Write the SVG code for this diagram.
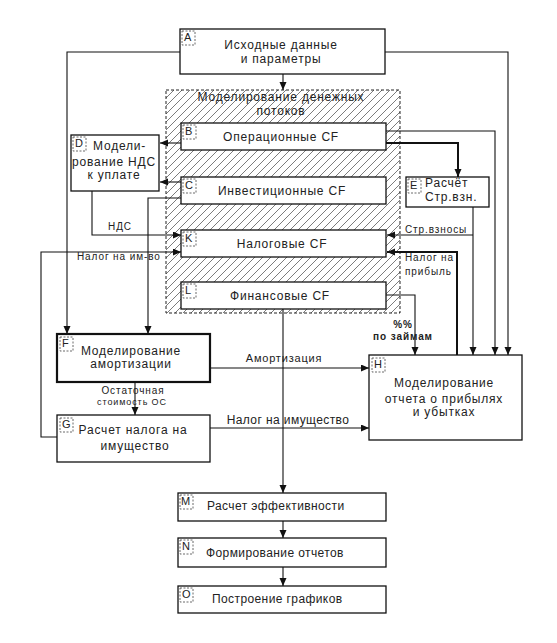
<svg xmlns="http://www.w3.org/2000/svg" width="557" height="643" viewBox="0 0 557 643">
<defs>
<pattern id="hatch" patternUnits="userSpaceOnUse" width="8" height="8">
<path d="M0,8 L8,0 M-2,2 L2,-2 M6,10 L10,6" stroke="#444" stroke-width="0.7"/>
</pattern>
<marker id="arr" markerUnits="userSpaceOnUse" markerWidth="9" markerHeight="8" refX="8" refY="3.5" orient="auto">
<path d="M0,0 L8,3.5 L0,7 z" fill="#111"/>
</marker>
</defs>
<style>
.box{fill:#fff;stroke:#111;stroke-width:1.3}
.thick{stroke-width:2.2}
.idb{fill:none;stroke:#444;stroke-width:0.8;stroke-dasharray:2,1.5}
.idt{font-family:"Liberation Sans",Arial,sans-serif;font-size:11px;fill:#222}
.t{font-family:"Liberation Sans",Arial,sans-serif;font-size:12px;fill:#222;letter-spacing:0.8px}
.tm{text-anchor:middle}
.lb{font-family:"Liberation Sans",Arial,sans-serif;font-size:10px;fill:#222;letter-spacing:0.9px}
.c{fill:none;stroke:#111;stroke-width:1.1}
.cb{fill:none;stroke:#111;stroke-width:2}
</style>
<rect width="557" height="643" fill="#fff"/>

<g id="hatched">
<rect x="166" y="90" width="234" height="223" fill="url(#hatch)" stroke="#222" stroke-width="1" stroke-dasharray="3,2"/>
<text class="t tm" x="281" y="101">Моделирование денежных</text>
<text class="t tm" x="281" y="115">потоков</text>
</g>

<g id="connectors">
<path class="c" d="M283,74 V90" marker-end="url(#arr)"/>
<path class="c" d="M180,52 H67 V334" marker-end="url(#arr)"/>
<path class="c" d="M385,52 H508 V355" marker-end="url(#arr)"/>
<path class="c" d="M181,143 H160" marker-end="url(#arr)"/>
<path class="c" d="M181,182 H160" marker-end="url(#arr)"/>
<path class="c" d="M181,198 H148 V334" marker-end="url(#arr)"/>
<path class="c" d="M92,191 V235 H181" marker-end="url(#arr)"/>
<path class="c" d="M57,437 H41 V252 H181" marker-end="url(#arr)"/>
<path class="cb" d="M386,143 H458 V177" marker-end="url(#arr)"/>
<path class="c" d="M386,131 H495 V355" marker-end="url(#arr)"/>
<path class="c" d="M473,207 V355" marker-end="url(#arr)"/>
<path class="c" d="M473,235 H387" marker-end="url(#arr)"/>
<path class="cb" d="M457,355 V252 H387" marker-end="url(#arr)"/>
<path class="c" d="M386,295 H415 V355" marker-end="url(#arr)"/>
<path class="c" d="M283,309 V493" marker-end="url(#arr)"/>
<path class="c" d="M210,368 H369" marker-end="url(#arr)"/>
<path class="c" d="M210,428 H369" marker-end="url(#arr)"/>
<path class="c" d="M135,382 V415" marker-end="url(#arr)"/>
<path class="c" d="M283,521 V538" marker-end="url(#arr)"/>
<path class="c" d="M283,567 V586" marker-end="url(#arr)"/>
<text class="lb tm" x="120" y="230">НДС</text>
<text class="lb" x="77" y="260">Налог на им-во</text>
<text class="lb" x="405" y="233">Стр.взносы</text>
<text class="lb" x="405" y="261">Налог на</text>
<text class="lb" x="405" y="275">прибыль</text>
<text class="lb tm" x="403" y="328" font-weight="bold">%%</text>
<text class="lb tm" x="403" y="340" font-weight="bold">по займам</text>
<text class="lb tm" x="133" y="394">Остаточная</text>
<text class="lb tm" x="132" y="405" style="font-size:9px">стоимость ОС</text>
<text class="t tm" x="284" y="362" style="font-size:11px">Амортизация</text>
<text class="t tm" x="288" y="424" style="letter-spacing:0.4px">Налог на имущество</text>
</g>

<g id="nodeA">
<rect class="box" x="180" y="29" width="205" height="45"/>
<rect class="idb" x="182" y="31" width="13" height="14"/><text class="idt" x="184" y="41">A</text>
<text class="t tm" x="281" y="49">Исходные данные</text>
<text class="t tm" x="281" y="63">и параметры</text>
</g>
<g id="nodeB">
<rect class="box" x="181" y="123" width="205" height="27"/>
<rect class="idb" x="183" y="125" width="13" height="14"/><text class="idt" x="185" y="135">B</text>
<text class="t tm" x="281" y="141">Операционные  CF</text>
</g>
<g id="nodeC">
<rect class="box" x="181" y="177" width="205" height="27"/>
<rect class="idb" x="183" y="179" width="13" height="14"/><text class="idt" x="185" y="189">C</text>
<text class="t tm" x="282" y="195">Инвестиционные  CF</text>
</g>
<g id="nodeK">
<rect class="box" x="181" y="230" width="205" height="27"/>
<rect class="idb" x="183" y="232" width="13" height="14"/><text class="idt" x="185" y="242">K</text>
<text class="t tm" x="282" y="248">Налоговые CF</text>
</g>
<g id="nodeL">
<rect class="box" x="181" y="282" width="205" height="27"/>
<rect class="idb" x="183" y="284" width="13" height="14"/><text class="idt" x="185" y="294">L</text>
<text class="t tm" x="280" y="300">Финансовые CF</text>
</g>
<g id="nodeD">
<rect class="box" x="71" y="135" width="88" height="56"/>
<rect class="idb" x="73" y="137" width="13" height="14"/><text class="idt" x="75" y="147">D</text>
<text class="t" x="93" y="150">Модели-</text>
<text class="t tm" x="114" y="166">рование НДС</text>
<text class="t tm" x="114" y="179">к уплате</text>
</g>
<g id="nodeE">
<rect class="box" x="406" y="177" width="83" height="30"/>
<rect class="idb" x="408" y="179" width="13" height="14"/><text class="idt" x="410" y="189">E</text>
<text class="t" x="425" y="187">Расчёт</text>
<text class="t" x="425" y="201">Стр.взн.</text>
</g>
<g id="nodeF">
<rect class="box thick" x="57" y="334" width="153" height="48"/>
<rect class="idb" x="60" y="337" width="13" height="14"/><text class="idt" x="62" y="347">F</text>
<text class="t tm" x="131" y="355">Моделирование</text>
<text class="t tm" x="131" y="368">амортизации</text>
</g>
<g id="nodeG">
<rect class="box" x="57" y="415" width="153" height="47"/>
<rect class="idb" x="60" y="418" width="13" height="14"/><text class="idt" x="62" y="428">G</text>
<text class="t tm" x="133" y="434">Расчет налога на</text>
<text class="t tm" x="135" y="450">имущество</text>
</g>
<g id="nodeH">
<rect class="box" x="369" y="355" width="153" height="85"/>
<rect class="idb" x="372" y="358" width="13" height="14"/><text class="idt" x="374" y="368">H</text>
<text class="t tm" x="444" y="387">Моделирование</text>
<text class="t tm" x="444" y="403">отчета о прибылях</text>
<text class="t tm" x="444" y="416">и убытках</text>
</g>
<g id="nodeM">
<rect class="box" x="178" y="493" width="208" height="28"/>
<rect class="idb" x="180" y="495" width="13" height="14"/><text class="idt" x="181" y="505">M</text>
<text class="t" x="207" y="510" style="letter-spacing:0.4px">Расчет эффективности</text>
</g>
<g id="nodeN">
<rect class="box" x="178" y="538" width="208" height="29"/>
<rect class="idb" x="180" y="540" width="13" height="14"/><text class="idt" x="182" y="550">N</text>
<text class="t" x="206" y="557" style="letter-spacing:0.4px">Формирование отчетов</text>
</g>
<g id="nodeO">
<rect class="box" x="178" y="586" width="208" height="27"/>
<rect class="idb" x="180" y="588" width="13" height="14"/><text class="idt" x="182" y="598">O</text>
<text class="t" x="212" y="603" style="letter-spacing:0.4px">Построение графиков</text>
</g>
</svg>
